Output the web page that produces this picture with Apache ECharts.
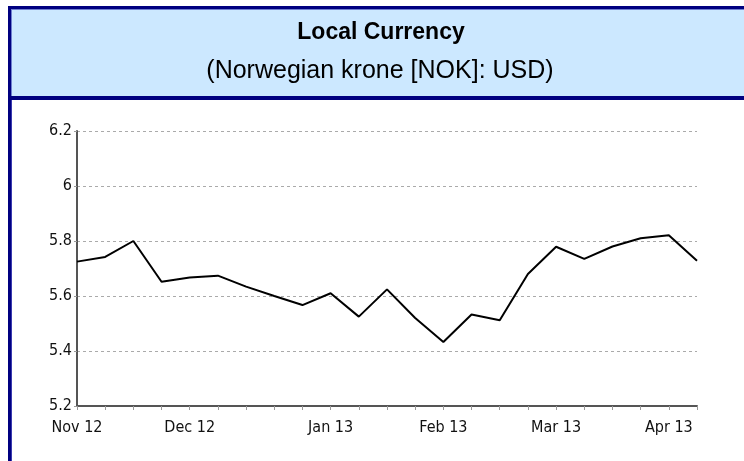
<!DOCTYPE html>
<html>
<head>
<meta charset="utf-8">
<script src="https://cdn.jsdelivr.net/npm/echarts@6/dist/echarts.min.js"></script>
<style>
html,body{margin:0;padding:0;background:#fff;}
#chart{width:744px;height:461px;}
</style>
</head>
<body>
<div id="chart"></div>
<script>
// Weekly observations, Nov 2012 - Apr 2013
const categories = ['w0','w1','w2','w3','w4','w5','w6','w7','w8','w9','w10','w11','w12','w13','w14','w15','w16','w17','w18','w19','w20','w21','w22'];
const tickLabels = ['Nov 12','','','','Dec 12','','','','','Jan 13','','','','Feb 13','','','','Mar 13','','','','Apr 13',''];
const nokPerUsd = [5.725,5.742,5.800,5.652,5.667,5.674,5.634,5.600,5.567,5.610,5.525,5.624,5.520,5.433,5.533,5.512,5.680,5.779,5.735,5.780,5.810,5.821,5.728];
const yTicks = { min: 5.2, max: 6.2, interval: 0.2 };
const titleText = 'Local Currency';
const subtitleText = '(Norwegian krone [NOK]: USD)';

const navy = '#000080';
const labelFont = '"DejaVu Sans Condensed", "Liberation Sans Narrow", "Liberation Sans", Arial, sans-serif';
const chart = echarts.init(document.getElementById('chart'), null, { renderer: 'canvas' });
chart.setOption({
  animation: false,
  backgroundColor: '#ffffff',
  graphic: [
    { type: 'rect', shape: { x: 8, y: 6, width: 736, height: 94 }, style: { fill: '#cce8ff' }, z: 0 },
    { type: 'rect', shape: { x: 8, y: 6, width: 736, height: 3 }, style: { fill: navy }, z: 1 },
    { type: 'rect', shape: { x: 11, y: 9, width: 733, height: 1 }, style: { fill: '#6f7fd0' }, z: 1 },
    { type: 'rect', shape: { x: 8, y: 96, width: 736, height: 4 }, style: { fill: navy }, z: 1 },
    { type: 'rect', shape: { x: 8, y: 6, width: 3, height: 455 }, style: { fill: navy }, z: 1 },
    { type: 'rect', shape: { x: 11, y: 9, width: 1, height: 87 }, style: { fill: '#6f7fd0' }, z: 1 },
    { type: 'rect', shape: { x: 11, y: 100, width: 1, height: 361 }, style: { fill: '#3a3ab0' }, z: 1 },
    { type: 'text', x: 381, y: 33, style: { text: titleText, fill: '#000', font: 'bold 23px "Liberation Sans", Arial, sans-serif', align: 'center', verticalAlign: 'middle' }, z: 2 },
    { type: 'text', x: 380, y: 71, style: { text: subtitleText, fill: '#000', font: '25px "Liberation Sans", Arial, sans-serif', align: 'center', verticalAlign: 'middle' }, z: 2 }
  ],
  grid: { left: 77, right: 47, top: 131, bottom: 55, containLabel: false },
  xAxis: {
    type: 'category',
    data: categories,
    boundaryGap: false,
    axisLine: { show: true, lineStyle: { color: '#555', width: 2 } },
    axisTick: { show: true, interval: 0, length: 4, lineStyle: { color: '#999', width: 1 } },
    axisLabel: {
      interval: 0,
      margin: 14,
      color: '#111',
      fontFamily: labelFont,
      fontSize: 16,
      formatter: (v, i) => tickLabels[i]
    },
    splitLine: { show: false }
  },
  yAxis: {
    type: 'value',
    min: yTicks.min,
    max: yTicks.max,
    interval: yTicks.interval,
    axisLine: { show: true, lineStyle: { color: '#555', width: 2 } },
    axisTick: { show: true, length: 3, lineStyle: { color: '#999' } },
    axisLabel: {
      margin: 5,
      color: '#111',
      fontFamily: labelFont,
      fontSize: 16,
      formatter: v => String(parseFloat(v.toFixed(1)))
    },
    splitLine: { show: true, lineStyle: { color: '#aaa', type: [3, 3], width: 1 } }
  },
  series: [{
    type: 'line',
    data: nokPerUsd,
    showSymbol: false,
    symbol: 'none',
    lineStyle: { color: '#000', width: 2 },
    z: 3
  }]
});
</script>
</body>
</html>
